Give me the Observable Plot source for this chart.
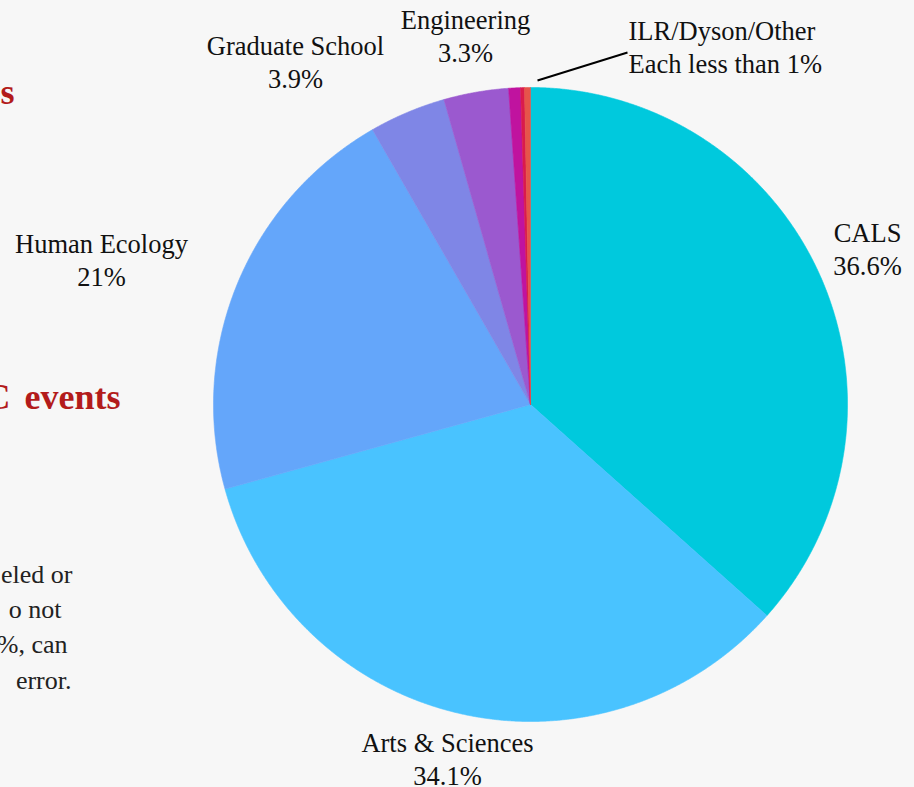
<!DOCTYPE html>
<html><head><meta charset="utf-8">
<script src="https://cdn.jsdelivr.net/npm/d3@7"></script>
<script src="https://cdn.jsdelivr.net/npm/@observablehq/plot@0.6"></script>
<style>html,body{margin:0;padding:0;background:#f7f7f7;overflow:hidden}</style>
</head><body><div id="chart"></div>
<script>
// ---- data ----
const categories = ["CALS", "Arts & Sciences", "Human Ecology", "Graduate School", "Engineering", "ILR", "Dyson", "Other"];
const shares = [36.6, 34.1, 21, 3.9, 3.3, 0.6, 0.2, 0.3];
const labelTitles = ["CALS", "Arts & Sciences", "Human Ecology", "Graduate School", "Engineering", "ILR/Dyson/Other"];
const labelValues = ["36.6%", "34.1%", "21%", "3.9%", "3.3%", "Each less than 1%"];
const sideHeadTexts = ["s", "C", "events"];
const sideBodyTexts = ["eled or", "o not", "%, can", "error."];

// ---- styles / layout ----
const colors = ["#00c9dd", "#49c3ff", "#64a6fa", "#7f86e6", "#9b59cf", "#c0139f", "#da1b4c", "#e6544a"];
const SERIF = "'Liberation Serif', 'Times New Roman', Times, serif";
const W = 914, H = 787, CX = 530, CY = 404, R = 317;
const labelPx = [[867, 241], [447, 751], [101, 252], [295, 54], [465, 28], [723, 39]]; // center x, first baseline
const lineGap = 33.5, FS = 26.5;
const toX = px => px - CX;
const toY = (baseline, fs) => CY - (baseline - 0.32 * fs);

// slice polygons from the pie layout
const arcs = d3.pie().sort(null).value(d => d)(shares);
const slices = arcs.map((a, i) => {
  const pts = [{x: 0, y: 0}];
  const n = Math.max(2, Math.ceil((a.endAngle - a.startAngle) / 0.003));
  for (let k = 0; k <= n; k++) {
    const t = a.startAngle + (a.endAngle - a.startAngle) * k / n;
    pts.push({x: R * Math.sin(t), y: R * Math.cos(t)});
  }
  pts.push({x: 0, y: 0});
  return pts;
});

const labels = [];
labelTitles.forEach((t, i) => {
  const [px, b] = labelPx[i];
  const anchor = i === 5 ? "start" : "middle";
  const lx = i === 5 ? 628 : px;
  labels.push({x: toX(lx), y: toY(b, FS), t, anchor});
  labels.push({x: toX(lx), y: toY(b + lineGap, FS), t: labelValues[i], anchor});
});

// partially visible text on the left side (cropped page)
const headPos = [[14, 103, "end"], [10, 408, "end"], [24, 408, "start"]];
const sideHeads = sideHeadTexts.map((t, i) => ({x: toX(headPos[i][0]), y: toY(headPos[i][1], 36), t, anchor: headPos[i][2]}));
const bodyPos = [[72, 582], [61, 617], [67, 652], [71, 688]];
const sideBody = sideBodyTexts.map((t, i) => ({x: toX(bodyPos[i][0]), y: toY(bodyPos[i][1], 26), t}));

const marks = slices.map((pts, i) => Plot.line(pts, {x: "x", y: "y", fill: colors[i], stroke: colors[i], strokeWidth: 0.6}));
marks.push(
  Plot.link([{x1: toX(537), y1: CY - 80, x2: toX(627), y2: CY - 52}], {x1: "x1", y1: "y1", x2: "x2", y2: "y2", stroke: "#000", strokeWidth: 2}),
  Plot.text(labels.filter(d => d.anchor === "middle"), {x: "x", y: "y", text: "t", textAnchor: "middle", fontSize: FS, fontFamily: SERIF, fill: "#111"}),
  Plot.text(labels.filter(d => d.anchor === "start"), {x: "x", y: "y", text: "t", textAnchor: "start", fontSize: FS, fontFamily: SERIF, fill: "#111"}),
  Plot.text(sideHeads.filter(d => d.anchor === "end"), {x: "x", y: "y", text: "t", textAnchor: "end", fontSize: 36, fontWeight: "bold", fontFamily: SERIF, fill: "#b31b1b"}),
  Plot.text(sideHeads.filter(d => d.anchor === "start"), {x: "x", y: "y", text: "t", textAnchor: "start", fontSize: 36, fontWeight: "bold", fontFamily: SERIF, fill: "#b31b1b"}),
  Plot.text(sideBody, {x: "x", y: "y", text: "t", textAnchor: "end", fontSize: 26, fontFamily: SERIF, fill: "#222"})
);

const chart = Plot.plot({
  width: W, height: H, margin: 0,
  x: {domain: [-CX, W - CX], axis: null},
  y: {domain: [-(H - CY), CY], axis: null},
  style: {background: "#f7f7f7", overflow: "hidden"},
  marks
});
document.getElementById("chart").append(chart);
</script>
</body></html>
